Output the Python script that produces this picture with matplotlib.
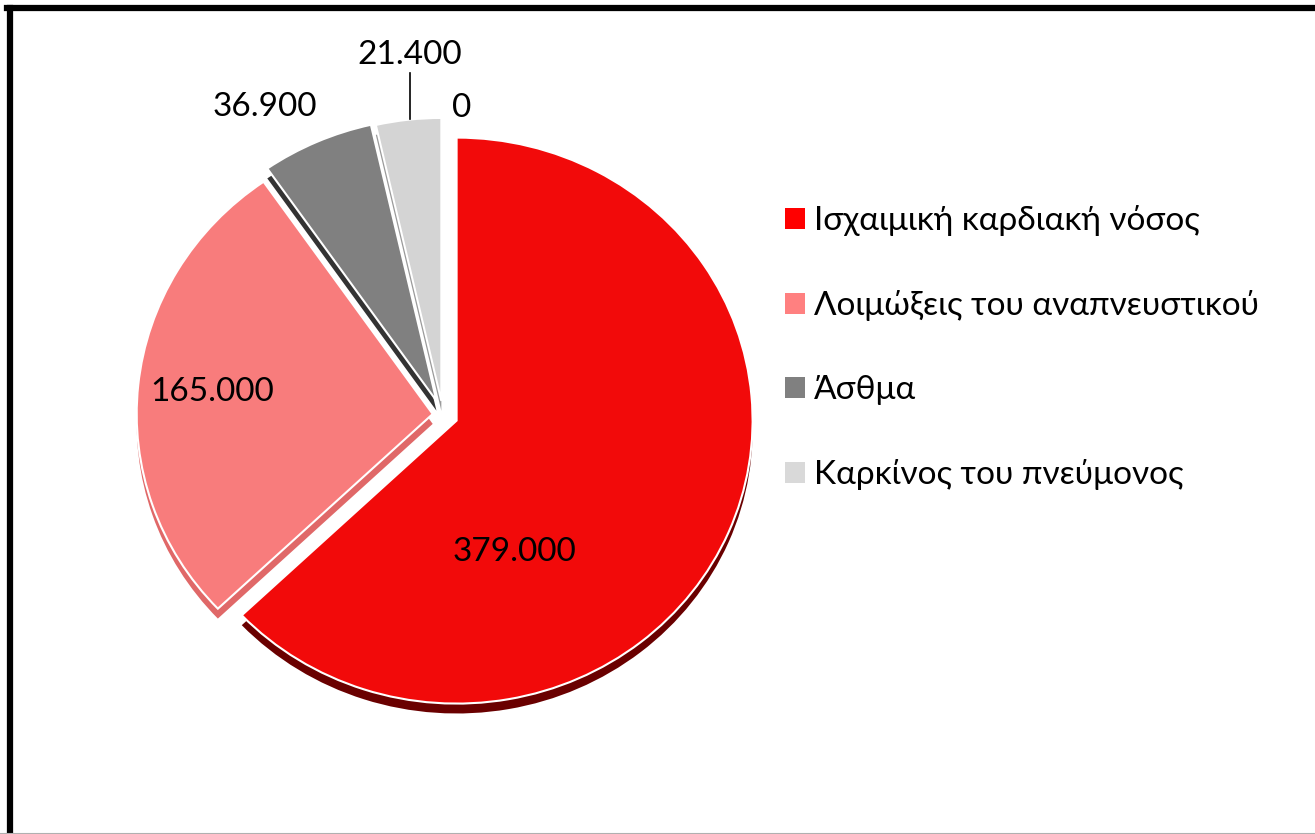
import numpy as np
import matplotlib.pyplot as plt
from matplotlib.lines import Line2D
from matplotlib.patches import Patch

plt.rcParams['font.family'] = ['Lato', 'Noto Sans', 'DejaVu Sans']

categories = ['Ισχαιμική καρδιακή νόσος', 'Λοιμώξεις του αναπνευστικού', 'Άσθμα', 'Καρκίνος του πνεύμονος', '']
values = [379000, 165000, 36900, 21400, 0]
value_labels = ['379.000', '165.000', '36.900', '21.400', '0']
colors = ['#f20a0a', '#f87c7c', '#808080', '#d4d4d4', '#ffffff']
side_colors = ['#6a0000', '#e06868', '#333333', '#9a9a9a', '#ffffff']
legend_colors = ['#ff0000', '#ff8080', '#808080', '#d9d9d9']
explode = [0.05, 0.035, 0.055, 0.05, 0.0]
# label positions in axes data coords (pie radius = 1)
label_pos = [(0.243, -0.484), (-0.780, 0.081), (-0.601, 1.088), (-0.111, 1.272), (0.064, 1.085)]

W, H = 1315, 834
fig = plt.figure(figsize=(W / 100, H / 100), dpi=100)

cx, cy, rx, ry = 443, 415, 296, 283
lim = 1.1
ax = fig.add_axes([(cx - rx * lim) / W, (H - cy - ry * lim) / H, 2 * rx * lim / W, 2 * ry * lim / H])

# side faces: same pie, darker, pushed down a bit
depth = 0.035
ax.pie(values, colors=side_colors, explode=explode, startangle=90,
       counterclock=False, center=(0, -depth), wedgeprops=dict(linewidth=0))
wedges, _ = ax.pie(values, colors=colors, explode=explode, startangle=90,
                   counterclock=False,
                   wedgeprops=dict(edgecolor='white', linewidth=1.5))
ax.set_aspect('auto')
ax.set_xlim(-lim, lim)
ax.set_ylim(-lim, lim)
ax.axis('off')

for (x, y), txt in zip(label_pos, value_labels):
    ax.text(x, y, txt, fontsize=24, ha='center', va='center', color='black')

# leader line for the small slice
lx, ly = label_pos[3]
ax.plot([lx, lx], [ly - 0.065, 1.045], color='black', lw=1.2, clip_on=False)

handles = [Patch(facecolor=c, edgecolor='none') for c in legend_colors]
fig.legend(handles, categories[:4], loc='upper left', bbox_to_anchor=(772 / W, 1 - 192 / H),
           frameon=False, fontsize=24, handlelength=0.6, handleheight=0.6,
           handletextpad=0.25, labelspacing=1.62, borderaxespad=0)

# outer frame (left and top visible)
fig.add_artist(Line2D([10 / W, 10 / W], [0, 1 - 8 / H], color='black', lw=4.5, transform=fig.transFigure))
fig.add_artist(Line2D([7 / W, 1], [1 - 8 / H, 1 - 8 / H], color='black', lw=4.5, transform=fig.transFigure))
fig.add_artist(Line2D([0, 1], [0.5 / H, 0.5 / H], color='#b0b0b0', lw=1.5, transform=fig.transFigure))

fig.savefig('out.png', dpi=100, facecolor='white')
